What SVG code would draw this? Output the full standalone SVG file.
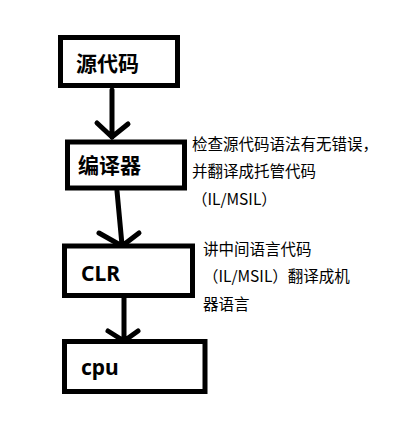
<svg xmlns="http://www.w3.org/2000/svg" width="413" height="440" viewBox="0 0 413 440">
<style>
.box{fill:#fff;stroke:#000;stroke-width:5}
.lbl{font-family:"Noto Sans","Noto Sans CJK SC",sans-serif;font-weight:bold;font-size:21px;fill:#000}
.note{font-family:"Noto Sans CJK SC","Noto Sans",sans-serif;font-size:15.5px;fill:#000}
.ln{stroke:#000;stroke-width:5;fill:none;stroke-linecap:round}
</style>
<rect width="413" height="440" fill="#fff"/>
<g id="connectors">
<path class="ln" d="M112 90 L112 137 M97 123 L112 137 L128 124"/>
<path class="ln" d="M117 191 L122 245 M99 233 L122 246 L139 233"/>
<path class="ln" d="M124 298 L124 340 M108 331 L124 341 L138 331"/>
</g>
<g id="n1">
<rect class="box" x="60.5" y="37.5" width="117" height="48"/>
<text class="lbl" x="76" y="71" font-size="20">源代码</text>
</g>
<g id="n2">
<rect class="box" x="67.5" y="142" width="117" height="46"/>
<text class="lbl" x="78" y="173">编译器</text>
</g>
<g id="n3">
<rect class="box" x="64.5" y="246" width="128" height="49.5"/>
<text class="lbl" x="81" y="281">CLR</text>
</g>
<g id="n4">
<rect class="box" x="64.5" y="341.5" width="140.5" height="50"/>
<text class="lbl" x="81" y="375">cpu</text>
</g>
<g id="note1">
<text class="note" x="192" y="150">检查源代码语法有无错误，</text>
<text class="note" x="192" y="177">并翻译成托管代码</text>
<text class="note" x="192" y="205">（IL/MSIL）</text>
</g>
<g id="note2">
<text class="note" x="203" y="255">讲中间语言代码</text>
<text class="note" x="203" y="282">（IL/MSIL）翻译成机</text>
<text class="note" x="203" y="310">器语言</text>
</g>
</svg>
